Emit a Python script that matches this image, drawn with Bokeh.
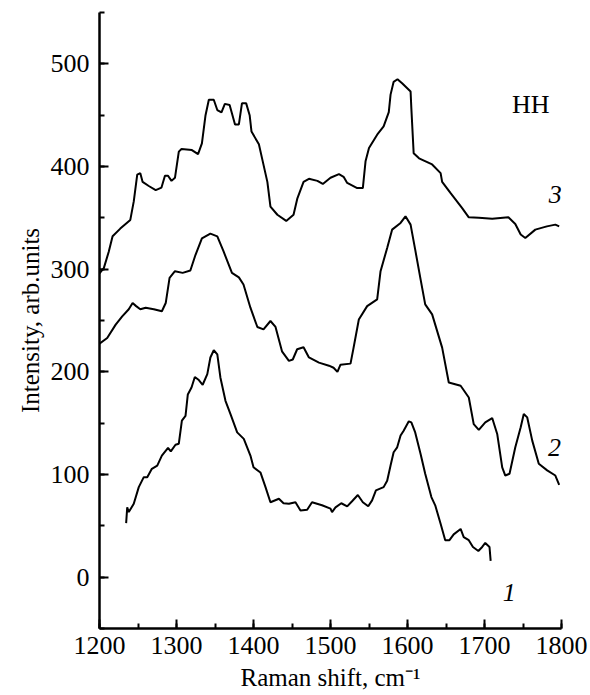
from bokeh.plotting import figure
from bokeh.models import Range1d, SingleIntervalTicker
from bokeh.core.properties import value
from bokeh.embed import file_html
from bokeh.resources import INLINE

# Curve 1
x1 = [1234.6, 1236, 1238, 1244.5, 1251, 1257.5, 1262, 1268, 1275, 1281, 1289, 1292.6, 1298.7, 1303,
      1307, 1311.7, 1314.7, 1319.5, 1323.8, 1329, 1334, 1340, 1344, 1348.4, 1353, 1357, 1363.6, 1370,
      1378.8, 1387.4, 1396, 1400, 1409, 1415.6, 1422, 1433, 1439, 1446, 1454.5, 1461, 1469.7, 1476,
      1489, 1500, 1502, 1506.5, 1514, 1521.7, 1528, 1535.5, 1542, 1549, 1554, 1559, 1569, 1573.6,
      1578, 1582, 1586.6, 1591, 1595, 1601.7, 1605, 1610, 1617, 1623, 1631, 1636, 1643, 1649, 1654.5,
      1660, 1669, 1673, 1679.6, 1685, 1692, 1697, 1701, 1706.5, 1708]
y1 = [52.7, 68, 63.4, 71.5, 87.7, 97.4, 97.4, 105.5, 108.7, 118.4, 126, 122.6, 129, 130,
      152.4, 157, 178, 184.8, 195, 192, 187.4, 197.8, 214, 221, 217, 194.5, 171.8, 159,
      141, 134.7, 118.4, 107, 102, 87.7, 73, 76.4, 72, 71.5, 73, 65, 65.7, 73,
      70, 66.7, 63.4, 68, 72, 69, 74, 80, 73, 69, 74.8, 84.5, 87.7, 94,
      108.7, 121.7, 126.5, 137.9, 142.7, 151.8, 150.8, 141, 120, 100.7, 78, 70, 52, 36, 36,
      41.7, 47, 39, 36, 29.4, 25.5, 29.4, 33.3, 29.4, 15.8]

# Curve 2
x2 = [1200, 1210, 1221, 1229.5, 1238, 1243, 1247.6, 1253, 1260, 1270.5, 1281, 1286, 1291, 1298,
      1308, 1318, 1324.7, 1333, 1344, 1353, 1361, 1372, 1381, 1387, 1396, 1405, 1413, 1422, 1428.6,
      1437, 1446, 1451, 1456.7, 1465, 1472, 1485, 1498, 1504, 1509, 1513, 1526, 1530, 1536.8,
      1547.6, 1560.6, 1565, 1573.6, 1580, 1591, 1597.4, 1604, 1610, 1617, 1623, 1632, 1645, 1653.6,
      1669, 1679.6, 1686, 1692.6, 1701, 1710, 1716.5, 1723, 1727, 1732.5, 1740, 1747, 1751, 1755.5,
      1762, 1770.5, 1781.4, 1792, 1797]
y2 = [227.5, 233, 246, 254, 261, 267, 264, 261, 262.5, 261, 259, 267, 291.5, 298,
      296.4, 298.7, 314, 330, 334.6, 332, 317.5, 296.4, 292, 285, 262.5, 243.7, 241.4, 249.5, 243.7,
      220, 210.7, 212, 222, 224, 214, 209, 206, 204, 200, 207, 208, 223.6, 251,
      264, 270.6, 298, 320.7, 338.5, 345, 351.5, 343.4, 319, 290, 265.7, 256, 223.6, 189.6,
      186.4, 175, 149, 143.4, 150.8, 155, 139.5, 107, 99, 100.7, 126.5, 146, 159, 155.6,
      133, 110.4, 104, 99, 90]

# Curve 3
x3 = [1200, 1205.6, 1212, 1217, 1227, 1240, 1244.5, 1249, 1253, 1256, 1264, 1273, 1280.5, 1285,
      1289, 1293.5, 1298, 1303, 1306.5, 1320, 1328, 1333, 1337.7, 1342, 1348.4, 1353, 1358.4, 1362.8,
      1369, 1376, 1381, 1385, 1390.5, 1395, 1397.4, 1407, 1412, 1418, 1422, 1431, 1442.5, 1452,
      1457, 1465, 1472, 1483, 1490, 1500, 1511, 1517, 1521.7, 1534.7, 1542, 1545.5, 1550, 1560.6,
      1569, 1575.7, 1578, 1582, 1587, 1593, 1604, 1605, 1608, 1615, 1632, 1643, 1645, 1656, 1671,
      1679.6, 1692.6, 1710, 1731, 1740, 1747, 1753, 1766, 1781, 1792, 1797]
y3 = [296, 301, 317, 332, 339.5, 348, 366, 392, 393.5, 385, 381, 377, 379.5, 391,
      391, 386, 389, 414.5, 417, 416, 412, 422.6, 450, 465, 465, 455, 452.7, 461,
      460, 441, 441, 461.5, 461.5, 450, 434, 421.6, 405, 385, 361, 353, 347, 353,
      369, 385, 388, 386, 383, 389, 392.5, 390, 384, 379, 379, 405, 418, 431,
      439, 453, 470, 482.5, 485, 481, 473, 456.6, 413, 408, 402, 393.5, 385, 374, 359.5,
      350.5, 350, 349, 350.5, 344, 333.7, 330.4, 338.5, 341.7, 343.4, 341.7]

curve_labels = ["1", "2", "3"]
curve_label_x = [1732, 1791, 1792]
curve_label_y = [-15, 126, 373]
title_text = ["HH"]
title_x = [1760]
title_y = [460]

FONT = "Liberation Serif"

p = figure(width=590, height=695, output_backend="svg", toolbar_location=None,
           x_range=Range1d(1200, 1800), y_range=Range1d(-50, 550),
           min_border_left=99, min_border_right=29, min_border_top=12, min_border_bottom=67)
p.outline_line_color = None
p.grid.visible = False
p.background_fill_color = "white"
p.border_fill_color = "white"

for xs, ys in [(x1, y1), (x2, y2), (x3, y3)]:
    p.line(xs, ys, line_color="black", line_width=2)

p.text(x=curve_label_x, y=curve_label_y, text=curve_labels, text_font=value(FONT),
       text_font_size="26px", text_font_style="italic", text_align="center",
       text_baseline="alphabetic", text_color="black")
p.text(x=title_x, y=title_y, text=title_text, text_font=value(FONT),
       text_font_size="26px", text_align="center", text_baseline="alphabetic",
       text_color="black")

p.xaxis.ticker = SingleIntervalTicker(interval=100, num_minor_ticks=2)
p.yaxis.ticker = SingleIntervalTicker(interval=100, num_minor_ticks=2)
p.xaxis.axis_label = "Raman shift, cm⁻¹"
p.yaxis.axis_label = "Intensity, arb.units"

for ax in (p.xaxis, p.yaxis):
    ax.axis_line_width = 2.5
    ax.axis_line_color = "black"
    ax.major_tick_in = 9
    ax.major_tick_out = 0
    ax.minor_tick_in = 5
    ax.minor_tick_out = 0
    ax.major_tick_line_width = 2
    ax.minor_tick_line_width = 2
    ax.major_tick_line_color = "black"
    ax.minor_tick_line_color = "black"
    ax.major_label_text_font = FONT
    ax.major_label_text_font_size = "26px"
    ax.major_label_text_color = "black"
    ax.axis_label_text_font = FONT
    ax.axis_label_text_font_size = "25px"
    ax.axis_label_text_font_style = "normal"
    ax.axis_label_text_color = "black"

p.xaxis.axis_label_standoff = 7
p.yaxis.axis_label_standoff = 4
p.xaxis.major_label_standoff = 8
p.yaxis.major_label_standoff = 10

open("out.html", "w").write(file_html(p, INLINE))
